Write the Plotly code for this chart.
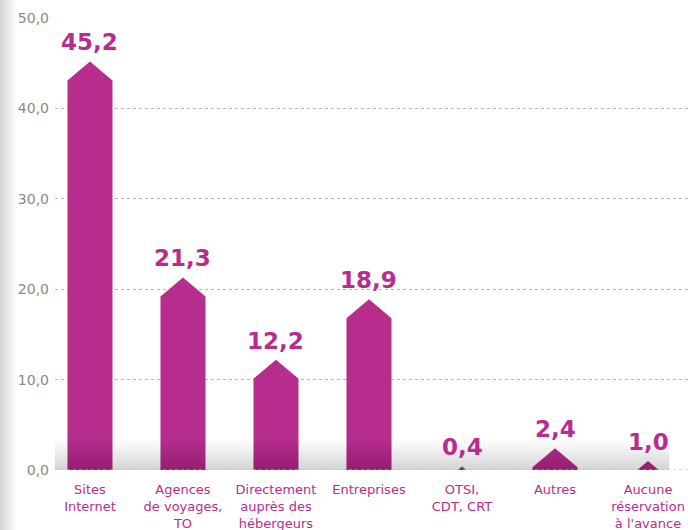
import plotly.graph_objects as go

categories = ["Sites<br>Internet", "Agences<br>de voyages,<br>TO", "Directement<br>auprès des<br>hébergeurs",
              "Entreprises", "OTSI,<br>CDT, CRT", "Autres", "Aucune<br>réservation<br>à l'avance"]
values = [45.2, 21.3, 12.2, 18.9, 0.4, 2.4, 1.0]
value_labels = ["45,2", "21,3", "12,2", "18,9", "0,4", "2,4", "1,0"]
y_ticks = [0, 10, 20, 30, 40, 50]

MAG = "#b72d8e"
FONT = "DejaVu Sans"
W, H = 688, 530
ML, MR, MT, MB = 55, 0, 18, 60
PW = W - ML - MR

half = 0.242   # half bar width in category units
cap = 2.1      # height of pointed cap in value units

fig = go.Figure()
for i, v in enumerate(values):
    if v >= cap:
        xs = [i - half, i - half, i, i + half, i + half, i - half]
        ys = [0, v - cap, v, v - cap, 0, 0]
    else:
        hw = half * v / cap
        xs = [i - hw, i, i + hw, i - hw]
        ys = [0, v, 0, 0]
    fig.add_trace(go.Scatter(x=xs, y=ys, fill="toself", fillcolor=MAG, mode="lines",
                             line=dict(width=0, color=MAG), hoverinfo="skip", showlegend=False))

for i, (v, t) in enumerate(zip(values, value_labels)):
    fig.add_annotation(x=i, y=v, text="<b>%s</b>" % t, showarrow=False, yanchor="bottom", yshift=4,
                       font=dict(family=FONT, size=23, color=MAG))

shapes = []
# bottom shadow gradient
n = 14
for k in range(n):
    shapes.append(dict(type="rect", xref="paper", yref="y", x0=0, x1=0.97, y0=0, y1=3.3 * (k + 1) / n,
                       fillcolor="rgba(0,0,0,0.01)", line=dict(width=0), layer="above"))
# left shadow band
for k in range(8):
    shapes.append(dict(type="rect", xref="paper", yref="paper", x0=-ML / PW, x1=(-ML + 2 * (k + 1)) / PW,
                       y0=-MB / (H - MT - MB), y1=1 + MT / (H - MT - MB),
                       fillcolor="rgba(0,0,0,0.018)", line=dict(width=0), layer="below"))

fig.update_layout(
    width=W, height=H, margin=dict(l=ML, r=MR, t=MT, b=MB, autoexpand=False),
    plot_bgcolor="white", paper_bgcolor="white", separators=", ",
    shapes=shapes,
    font=dict(family=FONT),
    xaxis=dict(range=[-0.376, 6.43], tickvals=list(range(len(categories))), ticktext=categories,
               showgrid=False, zeroline=False, showline=False, ticks="", automargin=False,
               tickfont=dict(size=13, color=MAG), ticklabelstandoff=10),
    yaxis=dict(range=[0, 50], tickvals=y_ticks, tickformat=".1f", showgrid=True, automargin=False,
               gridcolor="#b8b8b8", griddash="dot", gridwidth=1, zeroline=False, showline=False,
               ticks="", tickfont=dict(size=14, color="#8a8a8a"), ticklabelstandoff=5),
)
fig.add_hline(y=0, line=dict(color="#b8b8b8", dash="dot", width=1))

fig.write_html("out.html", config={"displayModeBar": False},
               post_script="document.body.style.margin='0';document.body.style.overflow='hidden';")
